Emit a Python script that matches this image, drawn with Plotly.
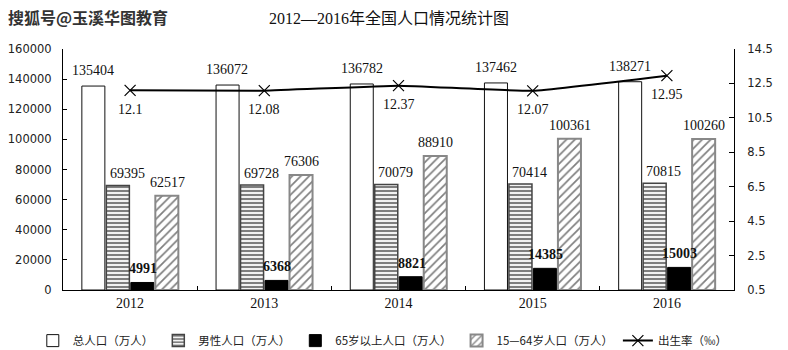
import plotly.graph_objects as go

# 2012-2016 national population figures (10k persons) and birth rate (‰)
years = ["2012", "2013", "2014", "2015", "2016"]
total_pop = [135404, 136072, 136782, 137462, 138271]
male_pop = [69395, 69728, 70079, 70414, 70815]
aged_65_plus = [4991, 6368, 8821, 14385, 15003]
aged_15_64 = [62517, 76306, 88910, 100361, 100260]
birth_rate = [12.1, 12.08, 12.37, 12.07, 12.95]

left_ticks = [0, 20000, 40000, 60000, 80000, 100000, 120000, 140000, 160000]
right_ticks = [0.5, 2.5, 4.5, 6.5, 8.5, 10.5, 12.5, 14.5]

SERIF = "Liberation Serif, Noto Sans CJK SC, serif"
SANS = "DejaVu Sans, sans-serif"
CJK = "Noto Sans CJK SC, sans-serif"

fig = go.Figure()

fig.add_trace(go.Bar(
    x=years, y=total_pop, name="总人口（万人）",
    marker=dict(color="white", line=dict(color="#111", width=1)),
))
fig.add_trace(go.Bar(
    x=years, y=male_pop, name="男性人口（万人）",
    marker=dict(color="white", line=dict(color="#444", width=1.5),
                pattern=dict(shape="-", fgcolor="black", bgcolor="white",
                             size=4, solidity=0.55)),
))
fig.add_trace(go.Bar(
    x=years, y=aged_65_plus, name="65岁以上人口（万人）",
    marker=dict(color="black", line=dict(color="black", width=1)),
))
fig.add_trace(go.Bar(
    x=years, y=aged_15_64, name="15—64岁人口（万人）",
    marker=dict(color="white", line=dict(color="#888", width=2),
                pattern=dict(shape="/", fgcolor="black", bgcolor="white",
                             size=6, solidity=0.28)),
))
fig.add_trace(go.Scatter(
    x=years, y=birth_rate, name="出生率（‰）", yaxis="y2",
    mode="lines+markers",
    line=dict(color="black", width=2, shape="spline", smoothing=0.3),
    marker=dict(symbol="x-thin-open", size=11,
                line=dict(color="#333", width=1.2)),
))

# value labels: (series, pixel offset from category centre, vertical gap, bold)
label_specs = [
    (total_pop, -37, 6, False),
    (male_pop, -3, 2, False),
    (aged_65_plus, 13, 4, True),
    (aged_15_64, 37, 4, False),
]
annotations = []
for values, dx, dy, bold in label_specs:
    for i, v in enumerate(values):
        annotations.append(dict(
            x=i, y=v, xref="x", yref="y", text=str(v), showarrow=False,
            xanchor="center", yanchor="bottom", xshift=dx, yshift=dy,
            font=dict(family=SERIF, size=14, color="#111",
                      weight="bold" if bold else "normal"),
        ))
for i, v in enumerate(birth_rate):
    annotations.append(dict(
        x=i, y=v, xref="x", yref="y2", text=str(v), showarrow=False,
        xanchor="center", yanchor="middle", yshift=-19,
        font=dict(family=SERIF, size=14, color="#111"),
    ))

# watermark in the top-left corner
annotations.append(dict(
    x=(88 - 63) / 671, y=(290 - 17) / 241, xref="paper", yref="paper",
    showarrow=False, text="<b>搜狐号@玉溪华图教育</b>",
    xanchor="center", yanchor="middle",
    font=dict(family=CJK, size=16, color="#333"),
))

fig.update_layout(
    annotations=annotations,
    title=dict(text="2012—2016年全国人口情况统计图", x=389 / 788, xanchor="center",
               y=1 - 18 / 350, yanchor="middle",
               font=dict(family=SERIF, size=16, color="#111")),
    width=788, height=350,
    margin=dict(l=63, r=54, t=49, b=60, autoexpand=False),
    paper_bgcolor="white", plot_bgcolor="white",
    barmode="group", bargap=0.27, bargroupgap=0.06,
    showlegend=True,
    legend=dict(orientation="h", x=-0.045, xanchor="left", y=-0.21,
                yanchor="middle", font=dict(family=CJK, size=11.5, color="#222"),
                itemwidth=30, tracegroupgap=0),
    xaxis=dict(type="category", range=[-0.5, 4.5], showline=True,
               linecolor="black", linewidth=1,
               ticks="inside", tickson="boundaries", ticklen=4,
               tickcolor="black", showgrid=False,
               tickfont=dict(family=SERIF, size=14, color="#111")),
    yaxis=dict(range=[0, 160000], tickvals=left_ticks, tickformat="d",
               showline=True,
               linecolor="black", linewidth=1, ticks="inside", ticklen=4,
               tickcolor="black", showgrid=False, zeroline=False,
               ticklabelstandoff=8,
               tickfont=dict(family=SANS, size=11.5, color="#222")),
    yaxis2=dict(range=[0.5, 14.5], tickvals=right_ticks, overlaying="y",
                side="right", showline=True, linecolor="black", linewidth=1,
                ticks="inside", ticklen=5, tickcolor="black", showgrid=False,
                zeroline=False, ticklabelstandoff=10,
                tickformat=".1f",
                tickfont=dict(family=SANS, size=11.5, color="#222")),
)

fig.write_html("out.html")
